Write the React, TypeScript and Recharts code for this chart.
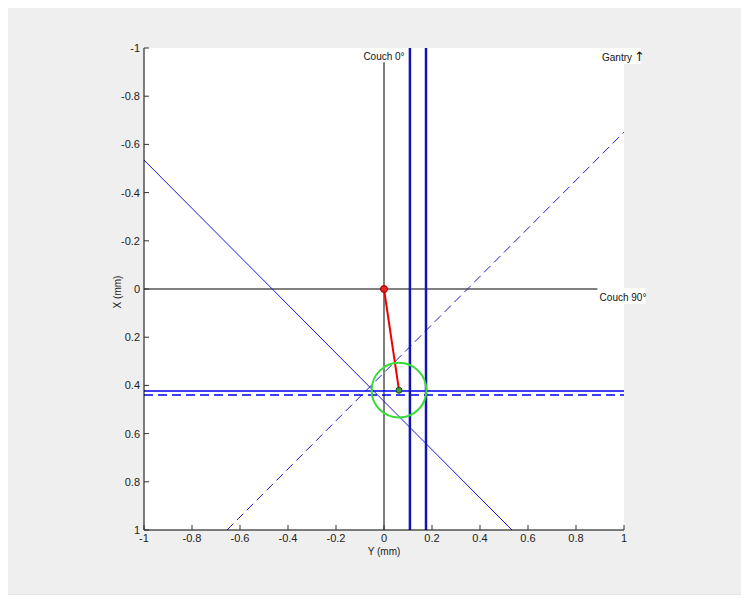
import { ComposedChart, Line, XAxis, YAxis, CartesianGrid, ReferenceDot } from 'recharts';

const X_TICKS = [-1, -0.8, -0.6, -0.4, -0.2, 0, 0.2, 0.4, 0.6, 0.8, 1];
const Y_TICKS = [-1, -0.8, -0.6, -0.4, -0.2, 0, 0.2, 0.4, 0.6, 0.8, 1];

// reference axes (black)
const couch0Line = [{ x: 0, y: -0.94 }, { x: 0, y: 1 }];
const couch90Line = [{ x: -1, y: 0 }, { x: 0.89, y: 0 }];

// beam edges (blue)
const beamV1 = [{ x: 0.108, y: -1 }, { x: 0.108, y: 1 }];
const beamV2 = [{ x: 0.175, y: -1 }, { x: 0.175, y: 1 }];
const beamH = [{ x: -1, y: 0.423 }, { x: 1, y: 0.423 }];
const beamHDashed = [{ x: -1, y: 0.44 }, { x: 1, y: 0.44 }];
const diagSolid = [{ x: -1, y: -0.535 }, { x: 0.533, y: 1 }];
const diagDashed = [{ x: -0.654, y: 1 }, { x: 1, y: -0.651 }];

// offset vector
const offsetLine = [{ x: 0, y: 0 }, { x: 0.0625, y: 0.42 }];
const center = { x: 0.0625, y: 0.42 };
const circleRadius = 0.114; // mm

const W = 749;
const H = 603;
const PLOT_LEFT = 144;
const PLOT_TOP = 48;
const PLOT_W = 480;
const Y_AXIS_W = 40;
const X_AXIS_H = 30;

const FONT = '"Liberation Sans", Arial, sans-serif';

const XTick = ({ x, y, payload }: any) => (
  <g>
    <line x1={x} y1={y - 12} x2={x} y2={y - 17} stroke="#333" />
    <text x={x} y={y} textAnchor="middle" fontSize={11} fill="#222" fontFamily={FONT}>
      {payload.value}
    </text>
  </g>
);

const YTick = ({ x, y, payload }: any) => (
  <g>
    <line x1={x + 4} y1={y} x2={x + 9} y2={y} stroke="#333" />
    <text x={x} y={y + 4} textAnchor="end" fontSize={11} fill="#222" fontFamily={FONT}>
      {payload.value}
    </text>
  </g>
);

const boxLabel = (text: string, dx: number, dy: number, w: number, arrow?: string) => (p: any) => (
  <g>
    <rect x={p.cx + dx - 2} y={p.cy + dy - 13} width={w} height={16} fill="#fff" />
    <text x={p.cx + dx} y={p.cy + dy} fontSize={10} fill="#111" fontFamily={FONT}>
      {text}
      {arrow && (
        <tspan fontSize={13} fontFamily="DejaVu Sans" dx={2}>
          {arrow}
        </tspan>
      )}
    </text>
  </g>
);

export default function App() {
  const pxPerUnit = PLOT_W / 2;
  const lineProps = { type: 'linear' as const, dataKey: 'y', dot: false, isAnimationActive: false };

  return (
    <div style={{ margin: -8, width: W, height: H, position: 'relative', background: '#fff' }}>
      <div
        style={{
          position: 'absolute',
          left: 4,
          top: 5,
          width: 737,
          height: 589,
          background: '#efefef',
          boxShadow: '0 0 0 1px #e6e6e6',
        }}
      />
      <div style={{ position: 'absolute', left: 0, top: 0 }}>
        <ComposedChart
          width={W}
          height={H}
          margin={{ top: PLOT_TOP, right: W - PLOT_LEFT - PLOT_W, bottom: 73 - X_AXIS_H, left: PLOT_LEFT - Y_AXIS_W }}
        >
          <CartesianGrid horizontal={false} vertical={false} fill="#ffffff" />
          <XAxis
            type="number"
            dataKey="x"
            domain={[-1, 1]}
            ticks={X_TICKS}
            allowDataOverflow
            height={X_AXIS_H}
            tickSize={0}
            tickMargin={12}
            tickLine={false}
            axisLine={{ stroke: '#000' }}
            tick={<XTick />}
            interval={0}
            label={{
              content: (p: any) => (
                <text
                  x={p.viewBox.x + p.viewBox.width / 2}
                  y={p.viewBox.y + 25}
                  textAnchor="middle"
                  fontSize={10}
                  fill="#222"
                  fontFamily={FONT}
                >
                  Y (mm)
                </text>
              ),
            }}
          />
          <YAxis
            type="number"
            dataKey="y"
            domain={[-1, 1]}
            reversed
            ticks={Y_TICKS}
            allowDataOverflow
            width={Y_AXIS_W}
            tickSize={0}
            tickMargin={4}
            tickLine={false}
            axisLine={{ stroke: '#000' }}
            tick={<YTick />}
            interval={0}
            label={{
              content: (p: any) => {
                const lx = p.viewBox.x + 17;
                const ly = p.viewBox.y + p.viewBox.height / 2 + 3;
                return (
                  <text
                    x={lx}
                    y={ly}
                    transform={`rotate(-90 ${lx} ${ly})`}
                    textAnchor="middle"
                    fontSize={10}
                    fill="#222"
                    fontFamily={FONT}
                  >
                    X (mm)
                  </text>
                );
              },
            }}
          />

          <ReferenceDot
            x={center.x}
            y={center.y}
            r={circleRadius * pxPerUnit}
            fill="none"
            stroke="#33dd33"
            strokeWidth={2}
          />

          <Line {...lineProps} data={couch0Line} stroke="#000" strokeWidth={1} />
          <Line {...lineProps} data={couch90Line} stroke="#000" strokeWidth={1} />

          <Line {...lineProps} data={diagSolid} stroke="#1a1ad0" strokeWidth={1} />
          <Line {...lineProps} data={diagDashed} stroke="#1a1ad0" strokeWidth={1} strokeDasharray="9 5" />
          <Line {...lineProps} data={beamH} stroke="#0000ee" strokeWidth={1.5} />
          <Line {...lineProps} data={beamHDashed} stroke="#0000ee" strokeWidth={1.5} strokeDasharray="9 5" />
          <Line {...lineProps} data={beamV1} stroke="#1414b4" strokeWidth={2.5} />
          <Line {...lineProps} data={beamV2} stroke="#1414b4" strokeWidth={2.5} />

          <Line {...lineProps} data={offsetLine} stroke="#ee0000" strokeWidth={2} />

          <ReferenceDot x={0} y={0} r={3.5} fill="#ee2020" stroke="#990000" strokeWidth={1} />
          <ReferenceDot x={center.x} y={center.y} r={3} fill="#3f9f3f" stroke="#1a4a1a" strokeWidth={1} />

          <ReferenceDot
            x={0}
            y={-0.94}
            r={0}
            ifOverflow="visible"
            shape={(p: any) => (
              <text x={p.cx} y={p.cy - 2} textAnchor="middle" fontSize={10} fill="#111" fontFamily={FONT}>
                Couch 0°
              </text>
            )}
          />
          <ReferenceDot x={0.89} y={0} r={0} ifOverflow="visible" shape={boxLabel('Couch 90°', 2, 12, 48)} />
          <ReferenceDot x={0.9} y={-1} r={0} ifOverflow="visible" shape={boxLabel('Gantry', 2, 13, 41, '↑')} />
        </ComposedChart>
      </div>
    </div>
  );
}
